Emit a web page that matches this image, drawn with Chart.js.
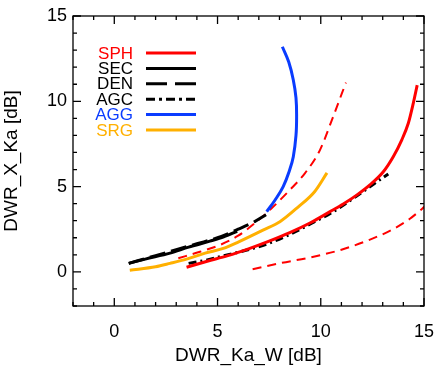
<!DOCTYPE html>
<html>
<head>
<meta charset="utf-8">
<script src="https://cdn.jsdelivr.net/npm/chart.js@4/dist/chart.umd.min.js"></script>
<style>
  html, body { margin: 0; padding: 0; background: #fff; }
  #wrap { width: 435px; height: 367px; }
</style>
</head>
<body>
<div id="wrap"><canvas id="chart" width="435" height="367"></canvas></div>
<script>
// curves: [DWR_Ka_W, DWR_X_Ka]
const sphLine = [[3.5,0.27],[4.5,0.62],[5.5,0.95],[6.5,1.35],[7.5,1.8],[8.5,2.3],[9.5,2.88],[10.45,3.53],[11.09,3.98],[11.74,4.5],[12.38,5.1],[13.03,5.87],[13.51,6.75],[13.92,7.73],[14.24,8.71],[14.48,9.88],[14.67,10.95]];
const secLine = [[0.7,0.5],[1.5,0.75],[2.7,1.1],[3.6,1.45],[4.63,1.8],[5.3,2.05],[5.95,2.38]];
const denLine = [[0.7,0.5],[2.0,0.95],[3.0,1.3],[4.0,1.65],[5.0,2.0],[6.0,2.5],[6.8,2.95],[7.35,3.35]];
const agcLine = [[3.6,0.5],[4.5,0.7],[5.12,0.89],[6.0,1.15],[6.73,1.38],[7.5,1.68],[8.5,2.2],[9.8,3.0],[10.5,3.45],[11.74,4.45],[12.62,5.2],[13.27,5.74]];
const aggLine = [[7.38,3.53],[7.78,4.2],[8.18,5.0],[8.5,6.0],[8.67,6.75],[8.8,8.0],[8.83,9.1],[8.8,10.2],[8.67,11.25],[8.45,12.3],[8.14,13.2]];
const srgLine = [[0.75,0.1],[2.0,0.3],[2.7,0.5],[3.5,0.75],[4.4,1.1],[5.28,1.38],[6.0,1.75],[7.2,2.45],[8.02,2.94],[8.9,3.8],[9.7,4.7],[10.3,5.8]];
// the two thin red dashed curves (no legend entry)
const sphUpper = [[3.1,0.8],[4.15,1.18],[5.12,1.58],[6.0,2.12],[6.8,2.85],[7.62,3.73],[8.5,4.8],[9.23,5.78],[9.96,7.14],[10.6,9.1],[11.22,11.1]];
const sphLower = [[6.7,0.15],[8.0,0.5],[9.5,0.85],[11.0,1.3],[12.5,1.95],[13.5,2.5],[14.3,3.1],[15.2,4.0]];

const xTicks = [0, 5, 10, 15];
const yTicks = [0, 5, 10, 15];
const axisMin = -2;
const axisMax = 15;

const RED = '#ff0000';
const BLUE = '#0a3cff';
const ORANGE = '#ffb000';
const FONT = '"Liberation Sans", Arial, Helvetica, sans-serif';

function toPoints(arr) {
    return arr.map(p => ({ x: p[0], y: p[1] }));
}

function makeSet(label, arr, color, width, dash) {
    return {
        label: label,
        data: toPoints(arr),
        showLine: true,
        borderColor: color,
        backgroundColor: color,
        borderWidth: width,
        borderDash: dash,
        pointRadius: 0,
        cubicInterpolationMode: 'monotone',
        fill: false
    };
}

// tick marks on all four sides + frame
const frame = {
    id: 'frame',
    afterDraw(chart) {
        const ctx = chart.ctx;
        const a = chart.chartArea;
        const xs = chart.scales.x;
        const ys = chart.scales.y;
        ctx.save();
        ctx.strokeStyle = '#000';
        ctx.lineWidth = 1.3;
        ctx.strokeRect(a.left, a.top, a.right - a.left, a.bottom - a.top);
        for (let v = axisMin; v <= axisMax; v++) {
            const len = (v % 5 === 0) ? 8 : 4;
            const px = xs.getPixelForValue(v);
            const py = ys.getPixelForValue(v);
            ctx.beginPath();
            ctx.moveTo(px, a.bottom); ctx.lineTo(px, a.bottom - len);
            ctx.moveTo(px, a.top); ctx.lineTo(px, a.top + len);
            ctx.moveTo(a.left, py); ctx.lineTo(a.left + len, py);
            ctx.moveTo(a.right, py); ctx.lineTo(a.right - len, py);
            ctx.stroke();
        }
        ctx.restore();
    }
};

// legend: coloured name, then line sample
const keyBox = {
    id: 'keyBox',
    afterDraw(chart) {
        const ctx = chart.ctx;
        ctx.save();
        ctx.font = '17px ' + FONT;
        ctx.textAlign = 'right';
        ctx.textBaseline = 'middle';
        let row = 0;
        chart.data.datasets.forEach(ds => {
            if (!ds.label) return;
            const y = 53 + row * 15.4;
            ctx.fillStyle = ds.borderColor;
            ctx.fillText(ds.label, 133, y + 1);
            ctx.strokeStyle = ds.borderColor;
            ctx.lineWidth = 3;
            ctx.setLineDash(ds.keyDash || []);
            ctx.beginPath();
            ctx.moveTo(146, y);
            ctx.lineTo(196, y);
            ctx.stroke();
            row++;
        });
        ctx.restore();
    }
};

const aggSet = makeSet('AGG', aggLine, BLUE, 3, []);
aggSet.cubicInterpolationMode = 'default';
aggSet.tension = 0.4;

const datasets = [
    makeSet('SPH', sphLine, RED, 3, []),
    makeSet('SEC', secLine, '#000', 3, []),
    Object.assign(makeSet('DEN', denLine, '#000', 3, [16, 6]), { keyDash: [21, 8] }),
    Object.assign(makeSet('AGC', agcLine, '#000', 3, [8, 4, 2, 4]), { keyDash: [9, 4, 3, 4] }),
    aggSet,
    makeSet('SRG', srgLine, ORANGE, 3, []),
    makeSet('', sphUpper, RED, 2, [9, 6]),
    makeSet('', sphLower, RED, 2, [9, 6])
];

new Chart(document.getElementById('chart').getContext('2d'), {
    type: 'scatter',
    data: { datasets: datasets },
    options: {
        responsive: false,
        animation: false,
        layout: { padding: { top: 16, right: 11, left: 0, bottom: 0 } },
        plugins: {
            legend: { display: false },
            tooltip: { enabled: false }
        },
        scales: {
            x: {
                type: 'linear',
                min: axisMin,
                max: axisMax,
                afterFit: (s) => { s.height = 61; s.paddingLeft = 0; s.paddingRight = 0; },
                afterBuildTicks: (s) => { s.ticks = xTicks.map(v => ({ value: v })); },
                grid: { display: false, drawTicks: false },
                border: { display: false },
                ticks: {
                    color: '#000',
                    padding: 15,
                    maxRotation: 0,
                    font: { family: FONT, size: 18 }
                },
                title: {
                    display: true,
                    text: 'DWR_Ka_W [dB]',
                    color: '#000',
                    padding: { top: 2, bottom: 0 },
                    font: { family: FONT, size: 19 }
                }
            },
            y: {
                type: 'linear',
                min: axisMin,
                max: axisMax,
                afterFit: (s) => { s.width = 73; s.paddingTop = 0; s.paddingBottom = 0; },
                afterBuildTicks: (s) => { s.ticks = yTicks.map(v => ({ value: v })); },
                grid: { display: false, drawTicks: false },
                border: { display: false },
                ticks: {
                    color: '#000',
                    padding: 6,
                    font: { family: FONT, size: 18 }
                },
                title: {
                    display: true,
                    text: 'DWR_X_Ka [dB]',
                    color: '#000',
                    padding: { top: 0, bottom: 0 },
                    font: { family: FONT, size: 19 }
                }
            }
        }
    },
    plugins: [frame, keyBox]
});
</script>
</body>
</html>
